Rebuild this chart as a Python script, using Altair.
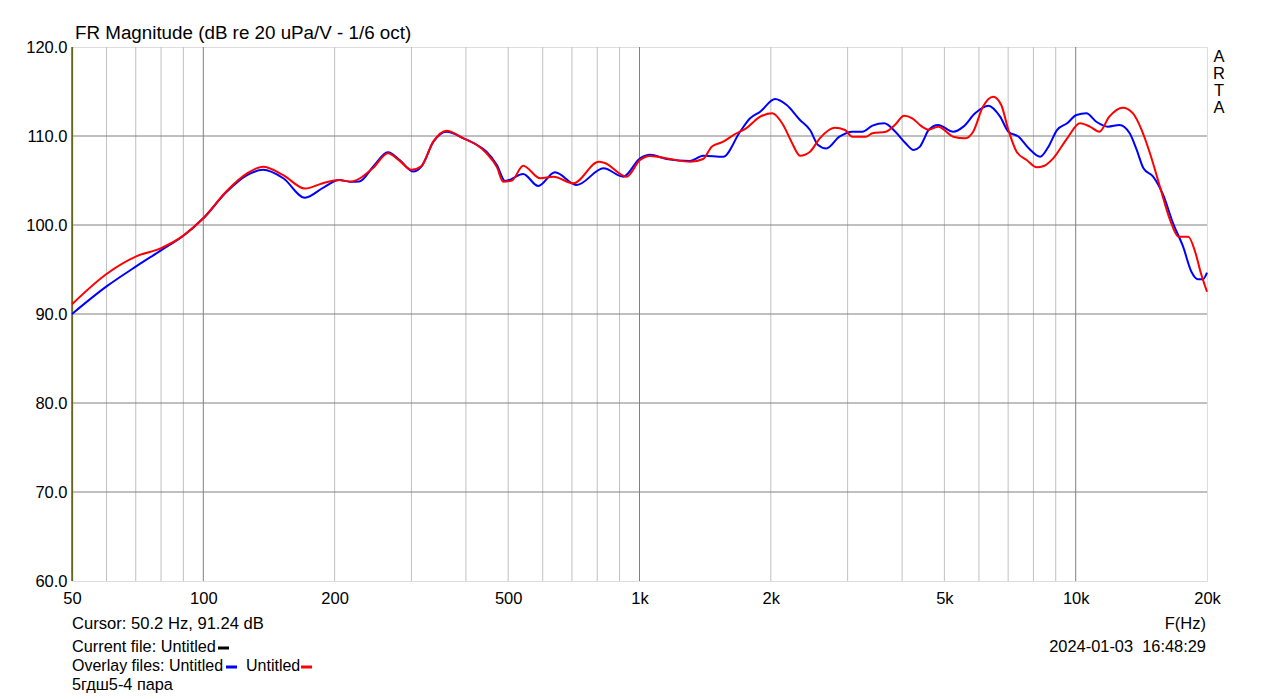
import altair as alt
import pandas as pd

# ---- data ----
blue_f = [50, 60, 70.4, 80.3, 90, 100, 113, 126, 137, 152.5, 171, 188.5, 205, 217, 228, 245, 265, 282,
          303, 316, 337, 361, 395, 424, 446, 471, 492, 541, 586, 640, 718, 827, 918, 1003, 1057, 1154,
          1305, 1400, 1556, 1700, 1793, 1891, 2045, 2175, 2333, 2460, 2567, 2680, 2873, 3075, 3243,
          3420, 3640, 3860, 4075, 4250, 4395, 4480, 4600, 4839, 5242, 5527, 5880, 6310, 6710, 7010,
          7400, 7805, 8290, 8660, 9060, 9560, 10040, 10580, 11150, 11860, 12600, 13300, 13800, 14300,
          15050, 15870, 16720, 17630, 18420, 19070, 19580, 20000]
blue_db = [90.0, 93.1, 95.4, 97.2, 98.8, 100.75, 103.7, 105.6, 106.2, 105.25, 103.07, 104.2, 105.05,
           104.87, 104.9, 106.55, 108.17, 107.3, 106.0, 106.55, 109.36, 110.48, 109.74, 108.99, 108.24,
           106.74, 104.94, 105.73, 104.38, 105.92, 104.5, 106.37, 105.43, 107.5, 107.9, 107.42, 107.2,
           107.79, 107.67, 110.48, 111.99, 112.73, 114.16, 113.48, 111.8, 110.67, 108.99, 108.6, 109.92,
           110.48, 110.48, 111.16, 111.43, 110.48, 109.18, 108.43, 108.8, 109.55, 110.67, 111.24, 110.48,
           111.05, 112.55, 113.4, 112.17, 110.48, 109.92, 108.62, 107.67, 108.8, 110.67, 111.43, 112.36,
           112.55, 111.6, 111.05, 111.24, 110.3, 108.43, 106.37, 105.43, 103.37, 100.19, 97.56, 94.75,
           93.9, 93.9, 94.64]

red_f = [50, 60, 70.4, 80, 90, 100, 113, 126, 137, 152.5, 171, 188, 205, 217, 245, 265, 282, 300, 316,
         337, 361, 395, 424, 446, 471, 487, 510, 541, 592, 635, 705, 806, 830, 934, 1003, 1057, 1175,
         1305, 1400, 1464, 1556, 1641, 1755, 1891, 2015, 2135, 2230, 2333, 2460, 2590, 2800, 2960, 3075,
         3300, 3420, 3670, 3860, 4040, 4220, 4395, 4480, 4600, 4839, 5242, 5580, 5820, 6130, 6470, 6750,
         7010, 7320, 7720, 8140, 8450, 8880, 9560, 10230, 10780, 11330, 11940, 12820, 13530, 14170,
         14800, 15600, 16460, 17200, 18120, 18830, 19370, 20000]
red_db = [91.1, 94.5, 96.5, 97.4, 98.8, 100.75, 103.8, 105.8, 106.55, 105.6, 104.1, 104.7, 105.05,
          104.87, 106.4, 108.06, 107.2, 106.2, 106.6, 109.4, 110.6, 109.74, 108.99, 108.06, 106.5, 104.87,
          105.0, 106.66, 105.25, 105.43, 104.68, 107.11, 107.0, 105.43, 107.3, 107.75, 107.42, 107.1,
          107.42, 108.8, 109.36, 110.1, 110.86, 112.17, 112.55, 111.24, 109.36, 107.79, 108.24, 109.74,
          110.93, 110.67, 109.92, 109.92, 110.3, 110.48, 111.3, 112.28, 111.99, 111.24, 110.93, 110.7,
          111.05, 109.92, 109.74, 110.48, 113.3, 114.42, 113.48, 110.67, 108.24, 107.3, 106.48, 106.63,
          107.49, 109.74, 111.43, 111.05, 110.48, 112.17, 113.18, 112.55, 110.67, 108.06, 104.3, 100.56,
          98.69, 98.69, 96.82, 94.57, 92.5]

x_ticks = [50, 100, 200, 500, 1000, 2000, 5000, 10000, 20000]
y_ticks = [60, 70, 80, 90, 100, 110, 120]
major_f = [100, 1000, 10000]
minor_f = [60, 70, 80, 90, 200, 300, 400, 500, 600, 700, 800, 900,
           2000, 3000, 4000, 5000, 6000, 7000, 8000, 9000]
grid_db = [70, 80, 90, 100, 110]
cursor_f = [50.2]
edge_f = [50]

title_txt = "FR Magnitude (dB re 20 uPa/V - 1/6 oct)"
cursor_txt = "Cursor: 50.2 Hz, 91.24 dB"
current_txt = "Current file: Untitled"
overlay_txt = "Overlay files: Untitled"
overlay2_txt = "Untitled"
name_txt = "5гдш5-4 пара"
xunit_txt = "F(Hz)"
date_txt = "2024-01-03\u00a0 16:48:29"

W, H = 1135, 534
FONT = "Liberation Sans"

xs = alt.Scale(type="log", domain=[50, 20000])
ys = alt.Scale(domain=[60, 120], nice=False, zero=False)

xax = alt.Axis(
    values=x_ticks, title=None, grid=False, ticks=False, domain=False,
    labelExpr="datum.value >= 1000 ? format(datum.value/1000, 'd') + 'k' : format(datum.value, 'd')",
    labelFont=FONT, labelFontSize=16.5, labelColor="black", labelPadding=9,
    labelFlush=False, labelOverlap=False)
yax = alt.Axis(
    values=y_ticks, format=".1f", title=None, grid=False, ticks=False, domain=False,
    labelFont=FONT, labelFontSize=16.5, labelColor="black", labelPadding=5,
    labelFlush=False, labelOverlap=False)

X = lambda: alt.X("f:Q", scale=xs, axis=xax)
Y = lambda: alt.Y("db:Q", scale=ys, axis=yax)

blue_df = pd.DataFrame({"f": blue_f, "db": blue_db})
red_df = pd.DataFrame({"f": red_f, "db": red_db})

minor = alt.Chart(pd.DataFrame({"f": minor_f})).mark_rule(color="#c0c0c0", strokeWidth=1).encode(x=X())
major = alt.Chart(pd.DataFrame({"f": major_f})).mark_rule(color="#808080", strokeWidth=1).encode(x=X())
hgrid = alt.Chart(pd.DataFrame({"db": grid_db})).mark_rule(color="#808080", strokeWidth=1).encode(y=Y())
cursor = alt.Chart(pd.DataFrame({"f": cursor_f})).mark_rule(color="#c8c800", strokeWidth=1).encode(x=X())
edge = alt.Chart(pd.DataFrame({"f": edge_f})).mark_rule(color="black", strokeWidth=1).encode(x=X())

blue = alt.Chart(blue_df).mark_line(color="#0000ff", strokeWidth=2, interpolate="monotone").encode(
    x=X(), y=Y())
red = alt.Chart(red_df).mark_line(color="#ff0000", strokeWidth=2, interpolate="monotone").encode(
    x=X(), y=Y())


def txt(s, x, y, align="left", size=16.5):
    return alt.Chart(pd.DataFrame({"t": [s]})).mark_text(
        align=align, baseline="middle", font=FONT, fontSize=size, color="black"
    ).encode(text="t:N", x=alt.value(x), y=alt.value(y))


def dash(x1, x2, y, color):
    return alt.Chart(pd.DataFrame({"t": [0]})).mark_rule(color=color, strokeWidth=3).encode(
        x=alt.value(x1), x2=alt.value(x2), y=alt.value(y))


texts = [
    txt(title_txt, 3, -14, size=18.8),
    txt(cursor_txt, 0, 577, size=16.6),
    txt(current_txt, 0, 600, size=16.3),
    dash(146, 157, 601, "black"),
    txt(overlay_txt, 0, 619, size=16),
    dash(154, 165, 620, "#0000ff"),
    txt(overlay2_txt, 174, 619, size=16),
    dash(229, 240, 620, "#ff0000"),
    txt(name_txt, 0, 638, size=16.3),
    txt(xunit_txt, 1134, 577, align="right", size=16.5),
    txt(date_txt, 1134, 600, align="right", size=16.4),
    alt.Chart(pd.DataFrame({"t": ["A\nR\nT\nA"]})).mark_text(
        align="center", baseline="top", font=FONT, fontSize=16.5, color="black",
        lineBreak="\n", lineHeight=17).encode(text="t:N", x=alt.value(1147), y=alt.value(2)),
]

chart = alt.layer(minor, major, hgrid, cursor, edge, blue, red, *texts).properties(
    width=W, height=H,
    autosize=alt.AutoSizeParams(type="none"),
    padding={"left": 64, "top": 39, "right": 60, "bottom": 116},
).configure_view(stroke="black", strokeWidth=1).configure(background="white")

chart.save("out.html", embed_options={"renderer": "svg", "actions": False})
